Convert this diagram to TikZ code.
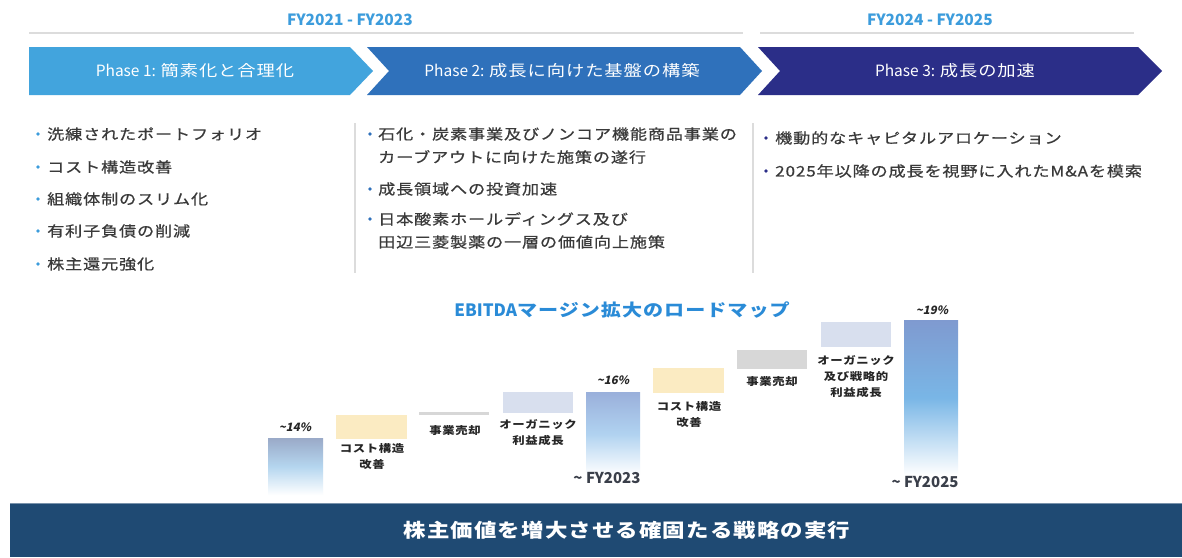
\documentclass[tikz,border=0pt]{standalone}
\usepackage{fontspec}
\newfontfamily\jp{Noto Sans CJK JP}
\newfontfamily\jpls{Noto Sans CJK JP}[FakeStretch=1.18, LetterSpace=6]
\newfontfamily\jpbul{Noto Sans CJK JP}[FakeStretch=1.18, LetterSpace=6, FakeBold=0.6]
\newfontfamily\jpit{Noto Sans CJK JP}[FakeSlant=0.2]
\usetikzlibrary{calc}
\definecolor{hdrblue}{HTML}{3C9CDC}
\definecolor{linegray}{HTML}{DCDCDC}
\definecolor{chA}{HTML}{42A4DD}
\definecolor{chB}{HTML}{2F71BB}
\definecolor{chC}{HTML}{2B2E88}
\definecolor{txtgray}{HTML}{3A3A3A}
\definecolor{ybox}{HTML}{FBEBC2}
\definecolor{gbox}{HTML}{D7D7D7}
\definecolor{lbox}{HTML}{D8DFEE}
\definecolor{bannerblue}{HTML}{1F4A73}
\definecolor{titleblue}{HTML}{2A8BD7}
\definecolor{fygray}{HTML}{3A3F4A}
\definecolor{barAtop}{HTML}{9AAAC8}
\definecolor{barAmid}{HTML}{B5D6EF}
\definecolor{barBtop}{HTML}{9AB0DB}
\definecolor{barBmid}{HTML}{B0D2F0}
\definecolor{barCtop}{HTML}{7F9AD0}
\definecolor{barCmid}{HTML}{79B6E6}
\tikzset{
  hdr/.style={inner sep=0, font=\jp\bfseries\fontsize{15.5}{18}\selectfont, text=hdrblue},
  hdrline/.style={draw=linegray, line width=2pt},
  phase/.style={inner sep=0, font=\jp\fontsize{15.5}{18}\selectfont, text=white},
  bul/.style={anchor=west, inner sep=0, font=\jpbul\fontsize{14.5}{17}\selectfont, text=txtgray},
  sepline/.style={draw=linegray, line width=2pt},
  chartbox/.style={anchor=north west, inner sep=0, draw=none},
  clabel/.style={inner sep=0, align=center, font=\jpls\bfseries\fontsize{10.5}{16}\selectfont, text=black!85},
  pct/.style={inner sep=0, font=\jpit\bfseries\fontsize{11.5}{13}\selectfont, text=black!85},
  fy/.style={inner sep=0, font=\jp\bfseries\fontsize{15}{18}\selectfont, text=fygray},
  bartitle/.style={inner sep=0, font=\jp\bfseries\fontsize{17}{20}\selectfont, text=titleblue},
  bannertext/.style={inner sep=0, font=\jpls\bfseries\fontsize{19}{22}\selectfont, text=white}
}
\begin{document}
\begin{tikzpicture}[x=1pt,y=-1pt]
\useasboundingbox (0,0) rectangle (1182,557);
\fill[white] (0,0) rectangle (1182,557);

% period headers
\node[hdr] (h1) at (350,20) {FY2021 - FY2023};
\node[hdr] (h2) at (930,20) {FY2024 - FY2025};
\coordinate (l1a) at (29,33); \coordinate (l1b) at (743,33);
\coordinate (l2a) at (760,33); \coordinate (l2b) at (1134,33);
\draw[hdrline] (l1a) -- (l1b);
\draw[hdrline] (l2a) -- (l2b);

% chevrons
\fill[chA] (29,47) -- (350,47) -- (373,71) -- (350,95) -- (29,95) -- cycle;
\fill[chB] (367,47) -- (740,47) -- (762,71) -- (740,95) -- (367,95) -- (389,71) -- cycle;
\fill[chC] (758,47) -- (1138,47) -- (1162,71) -- (1138,95) -- (758,95) -- (780,71) -- cycle;
\node[phase] (p1) at (195,71) {Phase 1: {\jpls 簡素化と合理化}};
\node[phase] (p2) at (562,71) {Phase 2: {\jpls 成長に向けた基盤の構築}};
\node[phase] (p3) at (955,71) {Phase 3: {\jpls 成長の加速}};

% separators
\coordinate (s1a) at (355,123); \coordinate (s1b) at (355,273);
\coordinate (s2a) at (753,123); \coordinate (s2b) at (753,273);
\draw[sepline] (s1a) -- (s1b);
\draw[sepline] (s2a) -- (s2b);

% column 1
\node[bul] (a1) at (47,134) {洗練されたポートフォリオ};
\node[bul] (a2) at (47,167) {コスト構造改善};
\node[bul] (a3) at (47,199) {組織体制のスリム化};
\node[bul] (a4) at (47,231) {有利子負債の削減};
\node[bul] (a5) at (47,264) {株主還元強化};
\foreach \n in {a1,a2,a3,a4,a5} \fill[hdrblue] ($(\n.west)+(-9,0)$) circle (1.8);

% column 2
\node[bul] (b1) at (378,134) {石化・炭素事業及びノンコア機能商品事業の};
\node[bul] (b1c) at (378,157) {カーブアウトに向けた施策の遂行};
\node[bul] (b2) at (378,189) {成長領域への投資加速};
\node[bul] (b3) at (378,219) {日本酸素ホールディングス及び};
\node[bul] (b3c) at (378,242) {田辺三菱製薬の一層の価値向上施策};
\foreach \n in {b1,b2,b3} \fill[chB] ($(\n.west)+(-8,0)$) circle (1.8);

% column 3
\node[bul] (c1) at (775,138) {機動的なキャピタルアロケーション};
\node[bul] (c2) at (775,171) {2025年以降の成長を視野に入れたM\&Aを模索};
\foreach \n in {c1,c2} \fill[chC] ($(\n.west)+(-9,0)$) circle (1.8);

% chart title
\node[bartitle] (ct) at (622,310) {EBITDA{\jpls マージン拡大のロードマップ}};

% bars and steps
\node[chartbox, minimum width=55, minimum height=57, top color=barAtop, bottom color=white, middle color=barAmid] (r1) at (268,438) {};
\node[chartbox, fill=ybox, minimum width=71, minimum height=24] (k1) at (336,415) {};
\node[chartbox, fill=gbox, minimum width=70, minimum height=3] (k2) at (419,412) {};
\node[chartbox, fill=lbox, minimum width=70, minimum height=21] (k3) at (503,392) {};
\node[chartbox, minimum width=54, minimum height=83, top color=barBtop, bottom color=white, middle color=barBmid] (r2) at (586,392) {};
\node[chartbox, fill=ybox, minimum width=71, minimum height=25] (k4) at (653,368) {};
\node[chartbox, fill=gbox, minimum width=70, minimum height=19] (k5) at (737,350) {};
\node[chartbox, fill=lbox, minimum width=70, minimum height=25] (k6) at (821,322) {};
\node[chartbox, minimum width=54, minimum height=155, top color=barCtop, bottom color=white, middle color=barCmid] (r3) at (904,320) {};

% labels
\node[pct] (t1) at (295,427) {\textasciitilde14\%};
\node[pct] (t2) at (613,380) {\textasciitilde16\%};
\node[pct] (t3) at (932,310) {\textasciitilde19\%};
\node[clabel] (q1) at (372,457) {コスト構造\\改善};
\node[clabel] (q2) at (455,431) {事業売却};
\node[clabel] (q3) at (538,433) {オーガニック\\利益成長};
\node[clabel] (q4) at (689,415) {コスト構造\\改善};
\node[clabel] (q5) at (772,382) {事業売却};
\node[clabel] (q6) at (856,377) {オーガニック\\及び戦略的\\利益成長};
\node[fy] (f1) at (607,478) {\textasciitilde\ FY2023};
\node[fy] (f2) at (925,482) {\textasciitilde\ FY2025};

% banner
\node[chartbox, fill=bannerblue, minimum width=1172, minimum height=54] (bn) at (10,503) {};
\draw[draw=bannerblue!60!white, line width=1pt] (bn.north west) -- (bn.north east);
\node[bannertext] (bt) at (627,530) {株主価値を増大させる確固たる戦略の実行};
\end{tikzpicture}
\end{document}
